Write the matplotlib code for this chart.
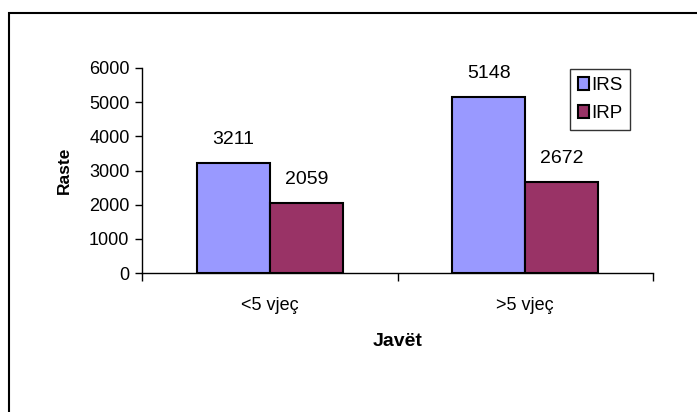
import matplotlib
matplotlib.use("Agg")
import matplotlib.pyplot as plt
from matplotlib.patches import Rectangle, Patch
import numpy as np

# Të dhënat
kategorite = ["<5 vjeç", ">5 vjeç"]
irs = [3211, 5148]
irp = [2059, 2672]
seri_emrat = ["IRS", "IRP"]
ngjyrat = ["#9999FF", "#993366"]

plt.rcParams['font.family'] = ['Liberation Sans', 'DejaVu Sans']

W, H = 697, 412
fig = plt.figure(figsize=(W / 100, H / 100), dpi=100)

# korniza e jashtme
fig.patches.append(Rectangle((9 / W, -0.1), 1.2, 1 - 13 / H + 0.1,
                             transform=fig.transFigure, fill=False,
                             edgecolor="black", linewidth=1.5))

ax = fig.add_axes([142 / W, 1 - 273 / H, (653 - 142) / W, (273 - 68) / H])

x = np.arange(len(kategorite))
gjeresia = 0.286
b1 = ax.bar(x - gjeresia / 2, irs, gjeresia, color=ngjyrat[0],
            edgecolor="black", linewidth=1.5)
b2 = ax.bar(x + gjeresia / 2, irp, gjeresia, color=ngjyrat[1],
            edgecolor="black", linewidth=1.5)

for bars, vals in [(b1, irs), (b2, irp)]:
    for b, v in zip(bars, vals):
        ax.annotate(str(v), (b.get_x() + b.get_width() / 2, v),
                    xytext=(0, 17), textcoords="offset points",
                    ha="center", va="center", fontsize=14)

ax.set_xlim(-0.5, 1.5)
ax.set_ylim(0, 6000)
ax.set_yticks(range(0, 6001, 1000))
ax.tick_params(axis="y", direction="out", length=5, width=1, labelsize=13, pad=4)

# ticks ndërmjet kategorive, etiketat në qendër
ax.set_xticks([-0.5, 0.5, 1.5])
ax.set_xticklabels([])
ax.set_xticks(x, minor=True)
ax.set_xticklabels(kategorite, minor=True, fontsize=13)
ax.tick_params(axis="x", which="major", direction="out", length=6, width=1)
ax.tick_params(axis="x", which="minor", length=0, pad=17)

for s in ["top", "right"]:
    ax.spines[s].set_visible(False)
for s in ["left", "bottom"]:
    ax.spines[s].set_linewidth(1)
    ax.spines[s].set_color("black")

ax.set_ylabel("Raste", fontsize=12.5, fontweight="bold", labelpad=12)
ax.set_xlabel("Javët", fontsize=14, fontweight="bold", labelpad=14)

handles = [Patch(facecolor=c, edgecolor="black", linewidth=1.5) for c in ngjyrat]
leg = ax.legend(handles, seri_emrat, loc="upper left",
                bbox_to_anchor=(570 / W, 1 - 69 / H), bbox_transform=fig.transFigure,
                fontsize=13.5, frameon=True, fancybox=False, handlelength=0.6,
                handleheight=0.7, handletextpad=0.15, borderpad=0.4,
                labelspacing=0.6, borderaxespad=0)
leg.get_frame().set_edgecolor("black")
leg.get_frame().set_linewidth(1)

fig.savefig("out.png", dpi=100)
